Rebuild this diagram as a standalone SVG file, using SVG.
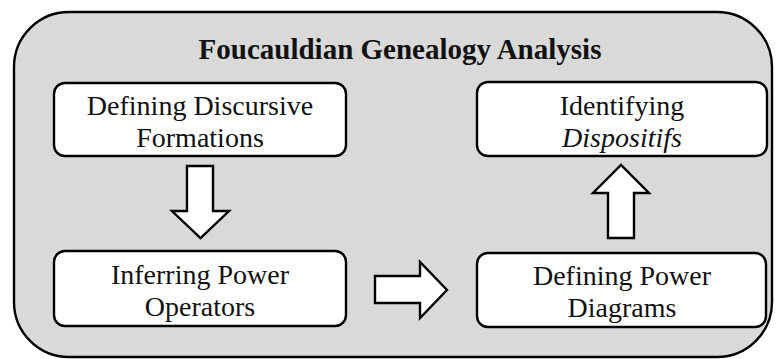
<svg xmlns="http://www.w3.org/2000/svg" width="776" height="359" viewBox="0 0 776 359">
<defs>
<style>
.box{fill:#ffffff;stroke:#000000;stroke-width:2.4}
.arr{fill:#ffffff;stroke:#000000;stroke-width:2.4;stroke-linejoin:miter}
</style>
</defs>
<rect width="776" height="359" fill="#ffffff"/>
<g id="frame">
<rect x="14" y="12" width="758" height="345" rx="55" ry="55" fill="#d9d9d9" stroke="#000000" stroke-width="2.4"/>
<text x="400" y="59" font-family="'Liberation Serif'" font-size="29" font-weight="bold" fill="#111111" text-anchor="middle">Foucauldian Genealogy Analysis</text>
</g>
<g id="node-discursive">
<rect class="box" x="54" y="83" width="292" height="73" rx="11"/>
<text x="200" y="115" font-family="'Liberation Serif'" font-size="28" fill="#111111" text-anchor="middle">Defining Discursive</text>
<text x="200" y="147" font-family="'Liberation Serif'" font-size="28" fill="#111111" text-anchor="middle">Formations</text>
</g>
<g id="node-dispositifs">
<rect class="box" x="477" y="82" width="290" height="74" rx="11"/>
<text x="622" y="115" font-family="'Liberation Serif'" font-size="28" fill="#111111" text-anchor="middle">Identifying</text>
<text x="622" y="147" font-family="'Liberation Serif'" font-size="28" font-style="italic" fill="#111111" text-anchor="middle">Dispositifs</text>
</g>
<g id="node-operators">
<rect class="box" x="54" y="251" width="292" height="75" rx="11"/>
<text x="200" y="284" font-family="'Liberation Serif'" font-size="28" fill="#111111" text-anchor="middle">Inferring Power</text>
<text x="200" y="316" font-family="'Liberation Serif'" font-size="28" fill="#111111" text-anchor="middle">Operators</text>
</g>
<g id="node-diagrams">
<rect class="box" x="477" y="253" width="289" height="74" rx="11"/>
<text x="622" y="285" font-family="'Liberation Serif'" font-size="28" fill="#111111" text-anchor="middle">Defining Power</text>
<text x="622" y="317" font-family="'Liberation Serif'" font-size="28" fill="#111111" text-anchor="middle">Diagrams</text>
</g>
<g id="connectors">
<polygon class="arr" points="187,166 213,166 213,211 229,211 200.5,238 172,211 187,211"/>
<polygon class="arr" points="375,276 420,276 420,262 447,290 420,318 420,303 375,303"/>
<polygon class="arr" points="608,238 634,238 634,193 649,193 621,165 593,193 608,193"/>
</g>
</svg>
